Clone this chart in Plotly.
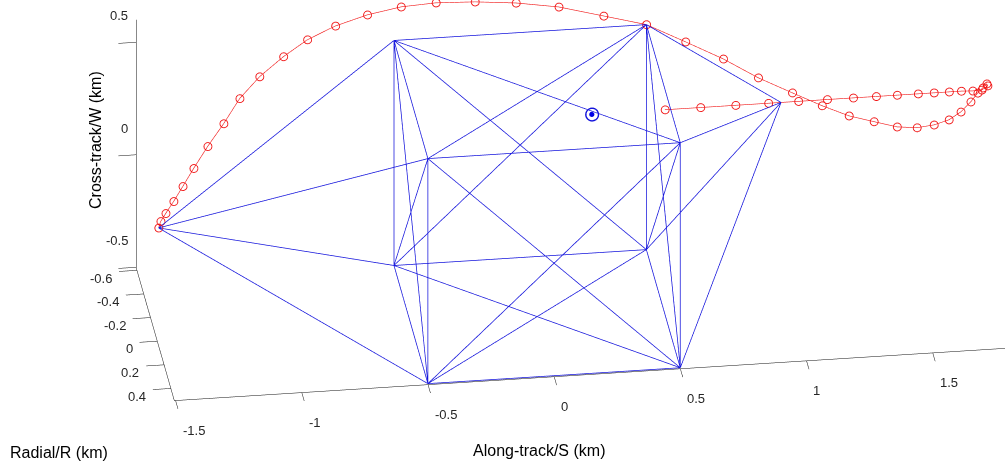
import plotly.graph_objects as go

# ---- wireframe vertices (Along-track S, Radial R, Cross-track W) in km ----
vert_S = [-0.5, 0.5, -0.5, 0.5, -0.5, 0.5, -0.5, 0.5, -1.5, 1.0]
vert_R = [-0.5, -0.5, 0.5, 0.5, -0.5, -0.5, 0.5, 0.5, 0.0, -0.25]
vert_W = [0.5, 0.5, 0.5, 0.5, -0.5, -0.5, -0.5, -0.5, 0.0, 0.25]
edges = [(0, 1), (2, 3), (4, 5), (6, 7), (0, 4), (2, 6), (1, 5), (3, 7),
         (0, 2), (1, 3), (4, 6), (5, 7),
         (0, 3), (1, 2), (4, 7), (5, 6), (0, 6), (2, 4), (1, 7), (3, 5),
         (0, 5), (1, 4), (2, 7), (3, 6),
         (8, 0), (8, 2), (8, 4), (8, 6), (9, 1), (9, 3), (9, 5), (9, 7)]

# ---- trajectory (red) ----
traj_S = [-1.5, -1.489, -1.466, -1.430, -1.388, -1.338, -1.274, -1.202, -1.129, -1.042,
          -0.940, -0.839, -0.723, -0.593, -0.457, -0.318, -0.164, -0.003, 0.164, 0.337,
          0.5, 0.649, 0.791, 0.921, 1.049, 1.161, 1.263, 1.359, 1.448, 1.526,
          1.594, 1.655, 1.705, 1.748, 1.779, 1.801, 1.818, 1.821, 1.796, 1.760,
          1.714, 1.666, 1.606, 1.543, 1.460, 1.377, 1.286, 1.183, 1.069, 0.950,
          0.820, 0.681, 0.540]
traj_R = [0.0, -0.019, -0.042, -0.076, -0.119, -0.170, -0.233, -0.298, -0.369, -0.430,
          -0.485, -0.531, -0.567, -0.594, -0.611, -0.617, -0.612, -0.602, -0.582, -0.547,
          -0.5, -0.454, -0.397, -0.334, -0.283, -0.239, -0.204, -0.182, -0.162, -0.156,
          -0.161, -0.173, -0.195, -0.223, -0.248, -0.262, -0.273, -0.267, -0.256, -0.255,
          -0.25, -0.25, -0.25, -0.25, -0.25, -0.25, -0.25, -0.25, -0.25, -0.25,
          -0.25, -0.25, -0.25]
traj_W = [0.0, 0.018, 0.040, 0.073, 0.114, 0.164, 0.224, 0.286, 0.355, 0.414,
          0.467, 0.511, 0.545, 0.571, 0.588, 0.593, 0.589, 0.578, 0.559, 0.525,
          0.5, 0.437, 0.381, 0.321, 0.272, 0.230, 0.196, 0.175, 0.156, 0.150,
          0.155, 0.167, 0.187, 0.214, 0.238, 0.252, 0.263, 0.257, 0.246, 0.245,
          0.25, 0.25, 0.25, 0.25, 0.25, 0.25, 0.25, 0.25, 0.25, 0.25,
          0.25, 0.25, 0.25]

# ---- target point ----
target_S = [0.25]
target_R = [-0.25]
target_W = [0.25]

# ---- axes ----
S_range = [-1.505, 1.83]
R_range = [-0.62, 0.503]
W_range = [-0.503, 0.6]
S_ticks = [-1.5, -1, -0.5, 0, 0.5, 1, 1.5]
S_ticktext = ["-1.5", "-1", "-0.5", "0", "0.5", "1", "1.5"]
R_ticks = [-0.6, -0.4, -0.2, 0, 0.2, 0.4]
R_ticktext = ["-0.6", "-0.4", "-0.2", "0", "0.2", "0.4"]
W_ticks = [-0.5, 0, 0.5]
W_ticktext = ["-0.5", "0", "0.5"]

FONT = "Liberation Sans, Arial, sans-serif"

# build wireframe segments
ex, ey, ez = [], [], []
for a, b in edges:
    ex += [vert_R[a], vert_R[b], None]
    ey += [vert_S[a], vert_S[b], None]
    ez += [vert_W[a], vert_W[b], None]

fig = go.Figure()
fig.add_trace(go.Scatter3d(x=ex, y=ey, z=ez, mode="lines",
                           line=dict(color="rgb(20,20,220)", width=1.5),
                           hoverinfo="skip", showlegend=False))
fig.add_trace(go.Scatter3d(x=traj_R, y=traj_S, z=traj_W, mode="lines+markers",
                           line=dict(color="rgb(240,20,20)", width=1.2),
                           marker=dict(symbol="circle-open", size=5,
                                       color="rgb(240,20,20)"),
                           showlegend=False))
fig.add_trace(go.Scatter3d(x=target_R, y=target_S, z=target_W, mode="markers",
                           marker=dict(symbol="circle-open", size=8, color="rgb(20,20,220)"),
                           showlegend=False))
fig.add_trace(go.Scatter3d(x=target_R, y=target_S, z=target_W, mode="markers",
                           marker=dict(symbol="circle", size=3, color="rgb(0,0,230)"),
                           showlegend=False))

def axis(rng, tv):
    return dict(range=rng, autorange=False, tickvals=tv, showticklabels=False,
                showbackground=False, showgrid=False, zeroline=False,
                showline=True, linecolor="#111", linewidth=1,
                ticks="outside", ticklen=18, tickcolor="#111",
                title=dict(text=""), showspikes=False)

# tick labels placed at the tick positions through the scene's own data coordinates
tick_font = dict(family=FONT, size=13, color="#262626")
scene_ann = []
for v, t in zip(S_ticks, S_ticktext):
    scene_ann.append(dict(x=R_ticks[-1] + 0.1, y=v, z=W_ticks[0], text=t, showarrow=False,
                          xanchor="left", yanchor="middle", xshift=5, yshift=-31, font=tick_font))
for v, t in zip(R_ticks, R_ticktext):
    scene_ann.append(dict(x=v, y=S_ticks[0], z=W_ticks[0], text=t, showarrow=False,
                          xanchor="right", yanchor="middle", xshift=-24, yshift=-8.5, font=tick_font))
for v, t in zip(W_ticks, W_ticktext):
    scene_ann.append(dict(x=R_ticks[0], y=S_ticks[0], z=v, text=t, showarrow=False,
                          xanchor="right", yanchor="middle", xshift=-8, yshift=29, font=tick_font))

f = 1.10
d = 2.0
eye_dir = (0.8757, -0.1177, 0.468)
ctr = (0.0, -0.321, -0.211)
fig.update_layout(
    width=1005, height=463,
    margin=dict(l=0, r=0, t=0, b=0),
    paper_bgcolor="white",
    scene=dict(
        domain=dict(x=[0, 1], y=[0, 1]),
        xaxis=axis(R_range, R_ticks),
        yaxis=axis(S_range, S_ticks),
        zaxis=axis(W_range, W_ticks),
        aspectmode="manual",
        aspectratio=dict(x=(R_range[1] - R_range[0]) * f,
                         y=(S_range[1] - S_range[0]) * f,
                         z=(W_range[1] - W_range[0]) * f),
        camera=dict(eye=dict(x=ctr[0] + eye_dir[0] * d, y=ctr[1] + eye_dir[1] * d,
                             z=ctr[2] + eye_dir[2] * d),
                    up=dict(x=0, y=0, z=1),
                    center=dict(x=ctr[0], y=ctr[1], z=ctr[2]),
                    projection=dict(type="orthographic")),
        annotations=scene_ann,
    ),
    annotations=[
        dict(text="Cross-track/W (km)", x=95 / 1005, y=1 - 140 / 463, xref="paper", yref="paper",
             xanchor="center", yanchor="middle",
             showarrow=False, textangle=-90, font=dict(family=FONT, size=16, color="black")),
        dict(text="Radial/R (km)", x=59 / 1005, y=1 - 452 / 463, xref="paper", yref="paper",
             xanchor="center", yanchor="middle",
             showarrow=False, font=dict(family=FONT, size=16, color="black")),
        dict(text="Along-track/S (km)", x=539 / 1005, y=1 - 450 / 463, xref="paper", yref="paper",
             xanchor="center", yanchor="middle",
             showarrow=False, font=dict(family=FONT, size=16, color="black")),
    ],
)
fig.write_html("out.html", config={"displayModeBar": False},
               post_script="document.body.style.margin='0px';")
